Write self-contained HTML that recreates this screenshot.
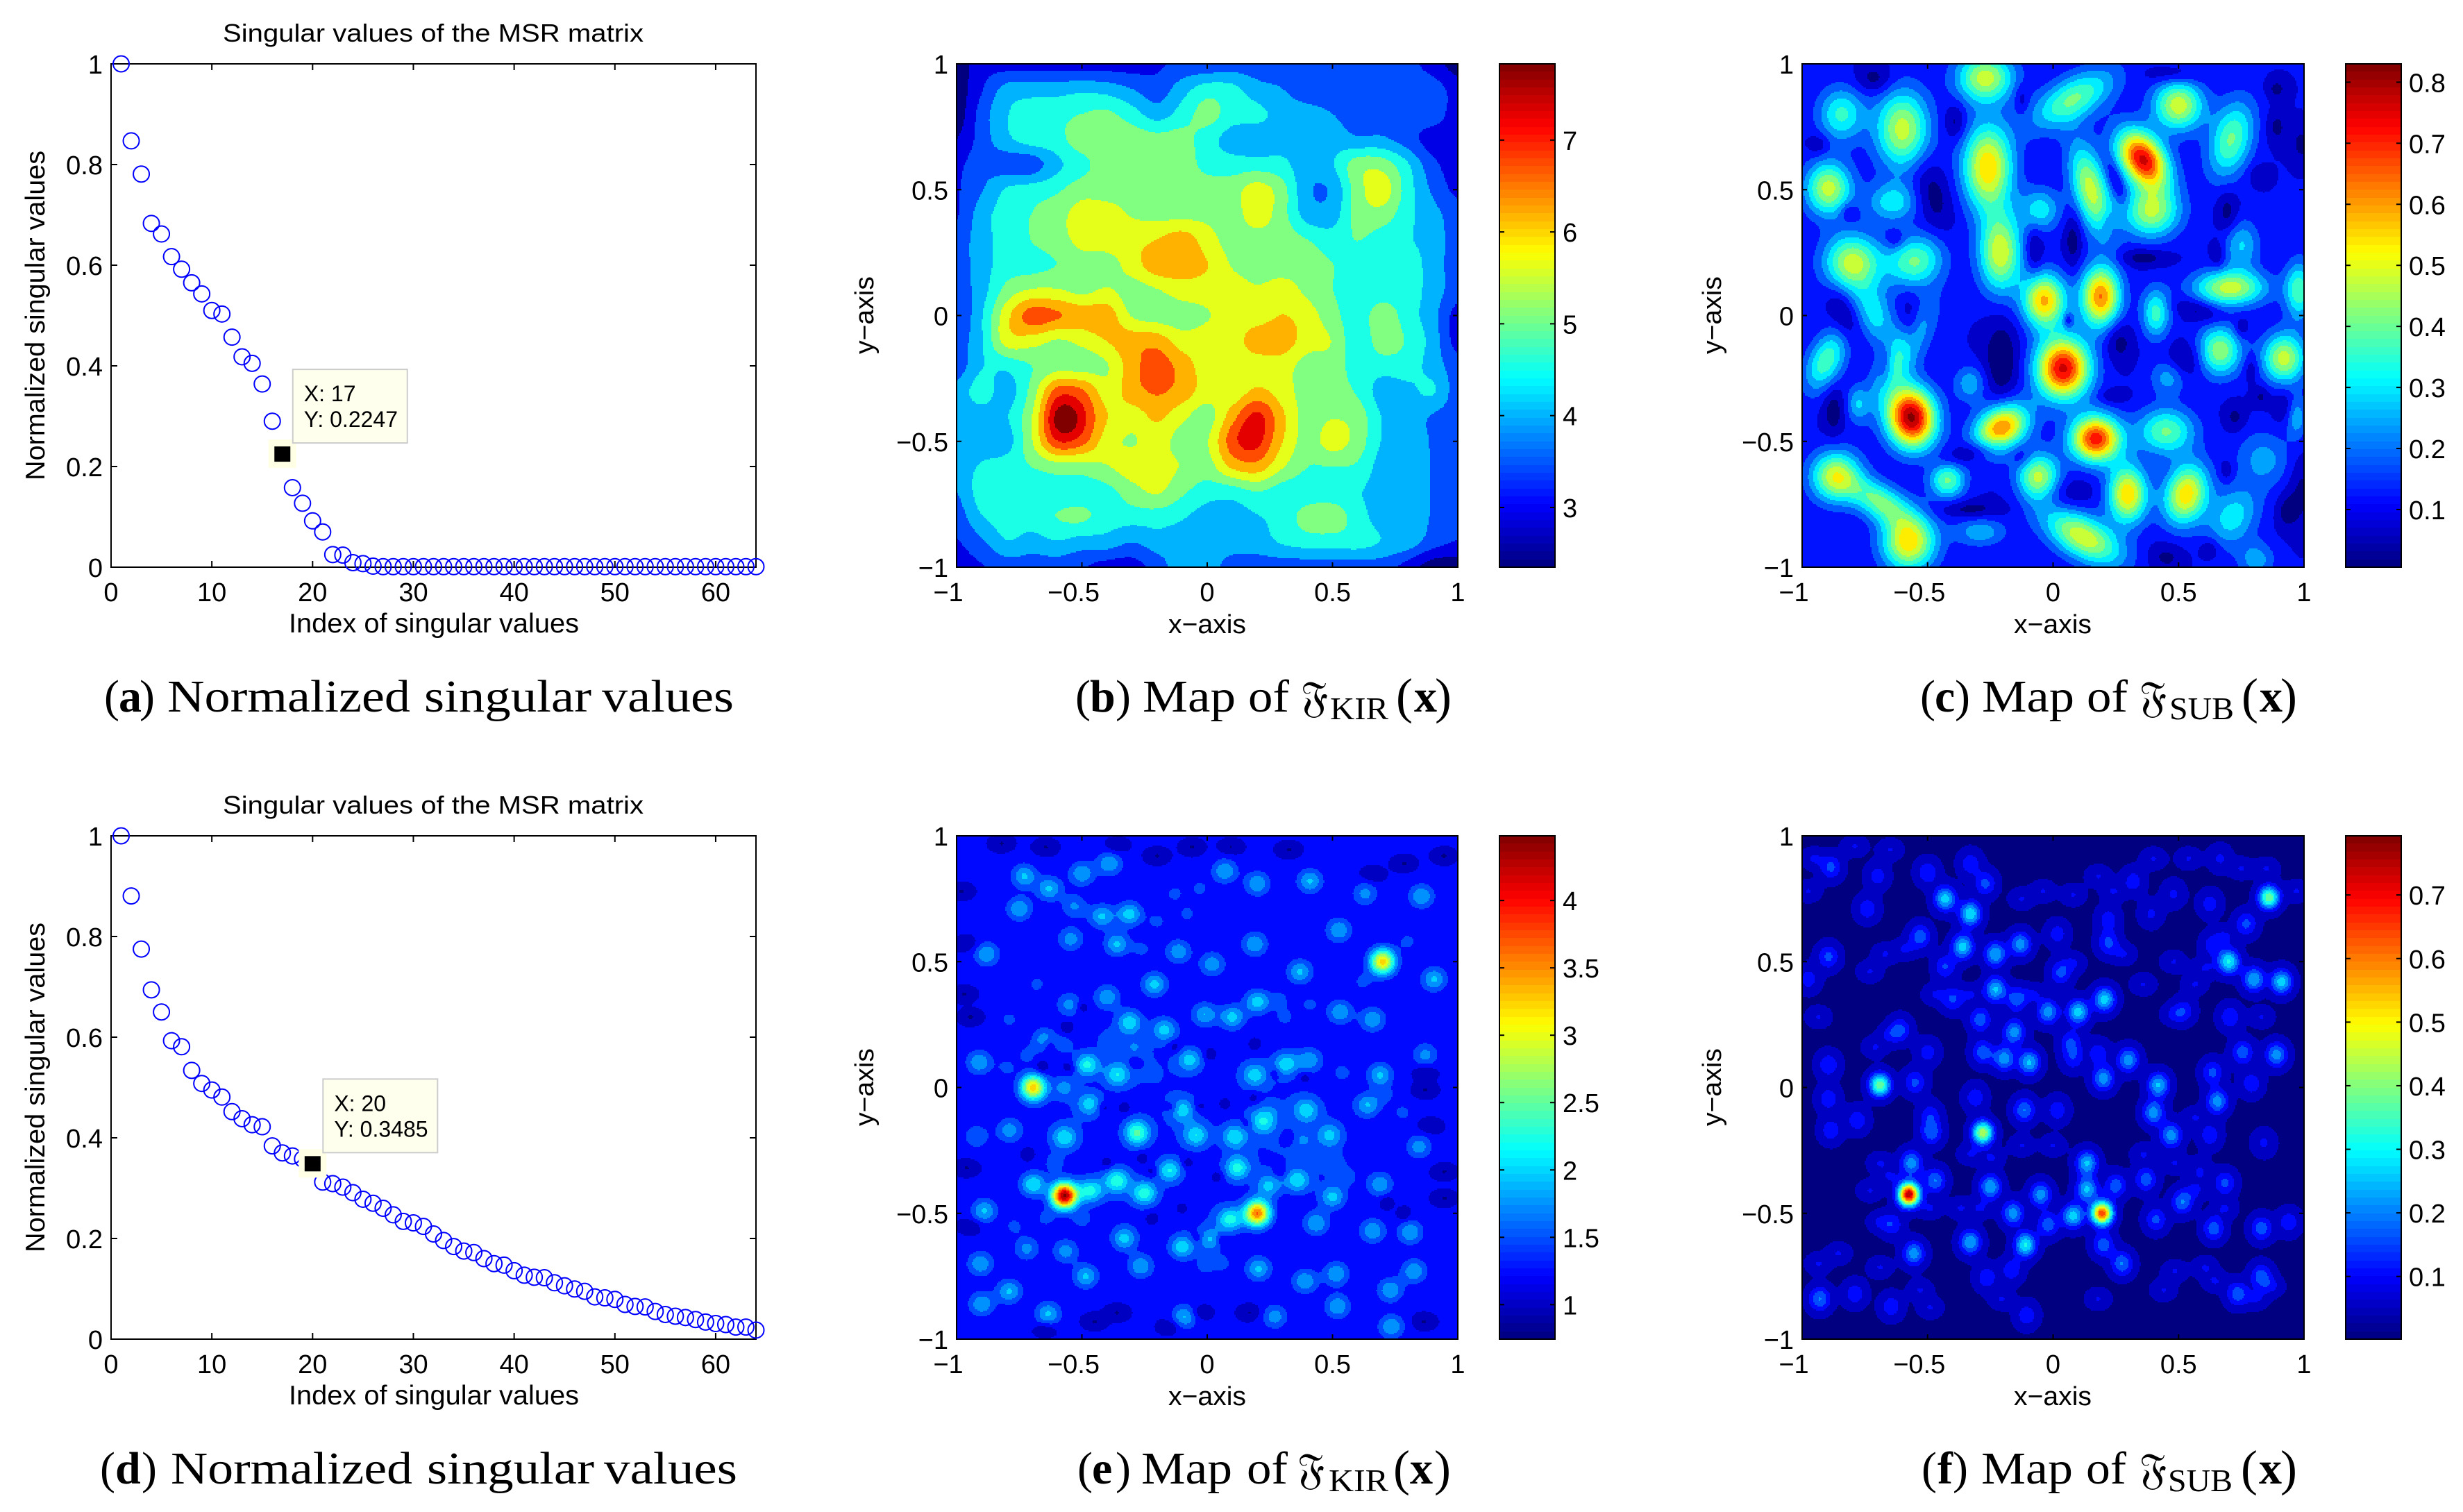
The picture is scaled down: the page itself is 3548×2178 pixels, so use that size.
<!DOCTYPE html>
<html lang="en">
<head>
<meta charset="utf-8">
<title>Singular values and imaging maps</title>
<style>
html,body{margin:0;padding:0;background:#fff;}
svg{display:block;}
.sans{font-family:"Liberation Sans",Arial,sans-serif;fill:#000;}
.serif{font-family:"Liberation Serif","DejaVu Serif",serif;fill:#000;}
.cap{font-size:66px;}
.sub{font-size:46px;}
.big{font-size:72px;}
.frak{font-family:"DejaVu Serif","DejaVu Sans","Noto Serif CJK SC",serif;font-size:62px;fill:#000;}
</style>
</head>
<body>
<svg id="figure" xmlns="http://www.w3.org/2000/svg" width="3548" height="2178" viewBox="0 0 3548 2178">
<rect x="0" y="0" width="3548" height="2178" fill="#fff"/>
<g id="layer"></g>

<text class="sans" font-size="36" x="321" y="60" textLength="606" lengthAdjust="spacingAndGlyphs">Singular values of the MSR matrix</text>
<text class="sans" font-size="39" x="416" y="911" textLength="418" lengthAdjust="spacingAndGlyphs">Index of singular values</text>
<text class="sans" font-size="39" transform="translate(64,692) rotate(-90)" textLength="475" lengthAdjust="spacingAndGlyphs">Normalized singular values</text>
<text class="sans" font-size="36" x="321" y="1172" textLength="606" lengthAdjust="spacingAndGlyphs">Singular values of the MSR matrix</text>
<text class="sans" font-size="39" x="416" y="2023" textLength="418" lengthAdjust="spacingAndGlyphs">Index of singular values</text>
<text class="sans" font-size="39" transform="translate(64,1804) rotate(-90)" textLength="475" lengthAdjust="spacingAndGlyphs">Normalized singular values</text>

<text class="sans" font-size="38" x="1683" y="912" textLength="112" lengthAdjust="spacingAndGlyphs">x−axis</text>
<text class="sans" font-size="38" transform="translate(1258,510) rotate(-90)" textLength="112" lengthAdjust="spacingAndGlyphs">y−axis</text>
<text class="sans" font-size="38" x="2901" y="912" textLength="112" lengthAdjust="spacingAndGlyphs">x−axis</text>
<text class="sans" font-size="38" transform="translate(2479,510) rotate(-90)" textLength="112" lengthAdjust="spacingAndGlyphs">y−axis</text>
<text class="sans" font-size="38" x="1683" y="2024" textLength="112" lengthAdjust="spacingAndGlyphs">x−axis</text>
<text class="sans" font-size="38" transform="translate(1258,1622) rotate(-90)" textLength="112" lengthAdjust="spacingAndGlyphs">y−axis</text>
<text class="sans" font-size="38" x="2901" y="2024" textLength="112" lengthAdjust="spacingAndGlyphs">x−axis</text>
<text class="sans" font-size="38" transform="translate(2479,1622) rotate(-90)" textLength="112" lengthAdjust="spacingAndGlyphs">y−axis</text>

<g>
<text class="serif cap" x="150" y="1025">(</text><text class="serif cap" font-weight="bold" x="171" y="1025">a</text><text class="serif cap" x="201" y="1025">)</text>
<text class="serif cap" x="241" y="1025" textLength="350" lengthAdjust="spacingAndGlyphs">Normalized</text>
<text class="serif cap" x="611" y="1025" textLength="241" lengthAdjust="spacingAndGlyphs">singular</text>
<text class="serif cap" x="867" y="1025" textLength="190" lengthAdjust="spacingAndGlyphs">values</text>
</g>
<g>
<text class="serif cap" x="144" y="2137">(</text><text class="serif cap" font-weight="bold" x="166" y="2137">d</text><text class="serif cap" x="204" y="2137">)</text>
<text class="serif cap" x="246" y="2137" textLength="348" lengthAdjust="spacingAndGlyphs">Normalized</text>
<text class="serif cap" x="615" y="2137" textLength="241" lengthAdjust="spacingAndGlyphs">singular</text>
<text class="serif cap" x="870" y="2137" textLength="192" lengthAdjust="spacingAndGlyphs">values</text>
</g>
<g>
<text class="serif cap" x="1549" y="1025">(</text><text class="serif cap" font-weight="bold" x="1570" y="1025">b</text><text class="serif cap" x="1607" y="1025">)</text>
<text class="serif cap" x="1646" y="1025" textLength="134" lengthAdjust="spacingAndGlyphs">Map</text>
<text class="serif cap" x="1798" y="1025" textLength="59" lengthAdjust="spacingAndGlyphs">of</text>
<text class="frak" x="1874" y="1025">𝔉</text>
<text class="serif sub" x="1916" y="1036" textLength="84" lengthAdjust="spacingAndGlyphs">KIR</text>
<text class="serif big" x="2011" y="1027">(</text><text class="serif cap" font-weight="bold" x="2037" y="1025">x</text><text class="serif big" x="2067" y="1027">)</text>
</g>
<g>
<text class="serif cap" x="1552" y="2137">(</text><text class="serif cap" font-weight="bold" x="1573" y="2137">e</text><text class="serif cap" x="1607" y="2137">)</text>
<text class="serif cap" x="1644" y="2137" textLength="131" lengthAdjust="spacingAndGlyphs">Map</text>
<text class="serif cap" x="1796" y="2137" textLength="59" lengthAdjust="spacingAndGlyphs">of</text>
<text class="frak" x="1869" y="2137">𝔉</text>
<text class="serif sub" x="1914" y="2148" textLength="86" lengthAdjust="spacingAndGlyphs">KIR</text>
<text class="serif big" x="2007" y="2139">(</text><text class="serif cap" font-weight="bold" x="2031" y="2137">x</text><text class="serif big" x="2066" y="2139">)</text>
</g>
<g>
<text class="serif cap" x="2766" y="1025">(</text><text class="serif cap" font-weight="bold" x="2787" y="1025">c</text><text class="serif cap" x="2816" y="1025">)</text>
<text class="serif cap" x="2855" y="1025" textLength="133" lengthAdjust="spacingAndGlyphs">Map</text>
<text class="serif cap" x="3006" y="1025" textLength="59" lengthAdjust="spacingAndGlyphs">of</text>
<text class="frak" x="3082" y="1025">𝔉</text>
<text class="serif sub" x="3125" y="1036" textLength="93" lengthAdjust="spacingAndGlyphs">SUB</text>
<text class="serif big" x="3229" y="1027">(</text><text class="serif cap" font-weight="bold" x="3255" y="1025">x</text><text class="serif big" x="3285" y="1027">)</text>
</g>
<g>
<text class="serif cap" x="2768" y="2137">(</text><text class="serif cap" font-weight="bold" x="2791" y="2137">f</text><text class="serif cap" x="2813" y="2137">)</text>
<text class="serif cap" x="2854" y="2137" textLength="132" lengthAdjust="spacingAndGlyphs">Map</text>
<text class="serif cap" x="3005" y="2137" textLength="58" lengthAdjust="spacingAndGlyphs">of</text>
<text class="frak" x="3082" y="2137">𝔉</text>
<text class="serif sub" x="3123" y="2148" textLength="93" lengthAdjust="spacingAndGlyphs">SUB</text>
<text class="serif big" x="3228" y="2139">(</text><text class="serif cap" font-weight="bold" x="3254" y="2137">x</text><text class="serif big" x="3285" y="2139">)</text>
</g>
</svg>

<script>
/* ---------- scatter data ---------- */
const scatterXTicks = [0,10,20,30,40,50,60];
const scatterYTicks = [0,0.2,0.4,0.6,0.8,1];
const scatterYTickLabels = ['0','0.2','0.4','0.6','0.8','1'];
const singularValuesA = [1,.847,.781,.683,.662,.617,.592,.565,.543,.510,.503,.457,.418,.405,.364,.290,.2247,.158,.127,.092,.070,.025,.024,.009,.007,.002,.001,.001,.001,.001,.001,.001,.001,.001,.001,.001,.001,.001,.001,.001,.001,.001,.001,.001,.001,.001,.001,.001,.001,.001,.001,.001,.001,.001,.001,.001,.001,.001,.001,.001,.001,.001,.001,.001];
const singularValuesD = [1,.8805,.775,.694,.650,.593,.581,.534,.508,.495,.481,.452,.438,.426,.422,.384,.370,.364,.358,.3485,.312,.309,.302,.291,.278,.270,.260,.247,.234,.231,.224,.209,.196,.184,.175,.172,.160,.150,.147,.136,.127,.123,.122,.112,.106,.0996,.095,.084,.082,.079,.069,.065,.064,.055,.049,.0455,.043,.039,.034,.031,.029,.024,.024,.018];
const datatipIndexA = 17;
const datatipIndexD = 20;

/* ---------- map axes and colorbars ---------- */
const mapTicks = [-1,-0.5,0,0.5,1];
const mapTickLabels = ['−1','−0.5','0','0.5','1'];
const colorbarTicksB = [3,4,5,6,7];
const colorbarLabelsB = ['3','4','5','6','7'];
const colorbarRangeB = [2.35,7.83];
const colorbarTicksC = [0.1,0.2,0.3,0.4,0.5,0.6,0.7,0.8];
const colorbarLabelsC = ['0.1','0.2','0.3','0.4','0.5','0.6','0.7','0.8'];
const colorbarRangeC = [0.0056,0.83];
const colorbarTicksE = [1,1.5,2,2.5,3,3.5,4];
const colorbarLabelsE = ['1','1.5','2','2.5','3','3.5','4'];
const colorbarRangeE = [0.744,4.48];
const colorbarTicksF = [0.1,0.2,0.3,0.4,0.5,0.6,0.7];
const colorbarLabelsF = ['0.1','0.2','0.3','0.4','0.5','0.6','0.7'];
const colorbarRangeF = [0.0014,0.793];

/* ---------- map b: coarse value grid, rows y=1..-1, cols x=-1..1, step 0.1 ---------- */
const mapBGrid = [
[2.6,3.2,3.2,3.2,3.2,3.2,3.2,3.2,3.35,3.6,3.6,3.7,3.7,3.7,3.7,3.7,3.7,3.7,3.6,3.2,2.6],
[2.6,3.4,4.2,4.3,4.3,4.4,4.3,4.0,3.7,4.3,4.8,4.7,4.2,4.0,3.7,3.7,3.7,3.7,3.7,3.7,3.2],
[2.6,3.7,4.5,4.8,4.9,5.1,5.2,4.8,4.3,4.8,5.3,4.8,4.7,4.3,4.2,4.0,3.7,3.7,3.7,3.7,3.2],
[2.9,3.7,4.4,4.8,4.9,5.4,5.4,5.4,5.3,5.3,4.8,4.3,4.2,4.3,4.3,4.3,4.1,4.1,3.7,3.2,3.2],
[3.3,3.8,3.7,3.7,4.4,4.9,5.4,5.4,5.4,5.4,4.9,4.8,4.8,4.7,4.2,4.5,5.4,5.4,4.6,3.6,3.2],
[3.4,3.95,4.6,4.8,5.0,5.4,5.4,5.4,5.4,5.4,5.4,5.4,5.9,5.3,4.1,4.1,5.4,5.9,4.8,3.9,3.3],
[3.4,4.3,4.8,5.1,5.4,5.9,5.9,5.6,5.5,5.5,5.5,5.4,5.9,5.3,4.3,4.3,5.3,5.4,4.7,4.2,3.7],
[3.7,4.3,4.8,5.1,5.4,5.8,5.9,6.0,6.2,6.5,5.9,5.4,5.4,5.4,5.1,4.8,5.1,4.8,4.6,4.3,3.7],
[3.7,4.3,4.8,4.9,5.1,5.4,5.4,5.9,6.5,6.5,6.2,5.6,5.4,5.4,5.4,5.1,4.8,4.8,4.8,4.3,3.7],
[3.7,4.3,5.3,5.7,5.7,5.5,5.7,5.4,5.6,5.9,5.9,5.9,5.7,5.9,5.5,5.1,4.8,4.8,4.8,4.3,3.7],
[3.5,4.5,6.0,7.0,6.8,6.5,6.5,5.6,5.4,5.4,5.6,5.9,5.9,6.2,5.9,5.3,4.8,5.4,4.8,4.2,3.2],
[3.7,4.5,5.9,5.9,5.6,5.8,6.2,6.5,6.5,5.9,5.9,5.9,6.5,6.5,5.9,5.6,4.7,5.4,5.0,4.3,3.2],
[3.7,4.5,4.7,5.1,5.4,5.4,5.6,6.5,7.0,6.5,5.9,5.9,5.9,5.9,5.4,5.4,4.8,4.8,4.8,4.3,3.7],
[4.2,4.8,4.3,5.3,6.9,6.8,5.9,6.5,6.8,6.5,5.9,5.8,6.3,5.9,5.4,5.4,5.0,4.3,4.4,4.6,3.7],
[4.3,4.3,4.5,5.6,7.4,7.2,6.2,5.9,6.3,5.8,5.4,6.5,7.4,6.3,5.4,5.6,5.4,4.5,4.3,3.95,3.7],
[4.3,4.3,4.3,5.6,7.1,6.9,5.9,5.6,5.9,5.4,5.6,7.0,7.3,6.2,5.4,5.9,5.4,4.5,4.3,3.95,3.7],
[4.3,4.6,4.8,5.1,5.4,5.4,5.6,5.9,5.9,5.6,5.4,6.3,6.5,5.7,5.1,5.1,5.0,4.3,4.3,3.95,3.7],
[4.0,4.8,4.8,4.6,4.8,4.8,4.9,5.4,5.7,5.2,4.8,4.8,5.1,4.8,4.8,4.8,4.6,4.3,4.3,3.95,3.7],
[3.7,4.5,4.8,4.8,5.1,5.2,4.8,4.8,4.8,4.6,4.3,4.3,4.5,4.8,5.3,5.4,4.8,4.3,4.3,3.95,3.7],
[3.4,3.9,4.5,4.3,4.5,4.3,4.3,4.0,4.3,4.3,4.3,4.3,4.3,4.6,4.8,4.8,4.8,4.5,4.3,3.7,3.4],
[3.2,3.4,3.7,3.7,3.7,3.5,3.2,3.2,3.7,4.3,4.3,3.7,3.7,3.7,3.7,3.7,3.7,3.7,3.2,2.6,2.6]
];
const mapBPeakX = [-0.565,0.17];
const mapBPeakY = [-0.41,-0.485];
const mapBPeakHeight = [0.8,0.3];
const mapBPeakSx = [0.05,0.035];
const mapBPeakSy = [0.05,0.04];
const mapBPeakRot = [0,0];

const mapCBase = 0.125;
const mapCPeakX = [-.844,-.60,-.27,.08,.50,.71,-.26,-.895,-.64,.358,.15,.39,-.05,-.21,-.80,-.55,-.71,-.035,.19,.41,.705,.665,.92,.98,.04,-.565,-.205,.17,.45,-.33,-.78,-.905,.46,-.865,-.69,-.575,-.42,-.058,.297,.53,.84,.717,-.29,.12,.81,.97,-.6,.75,
 -.39,-.71,-.48,.08,.36,-.205,.26,.525,.695,.655,-.075,-.815,-.835,-.875,0,-.31,.725,.92,.45,.25,.89,.82,-.125,.48,-.57,.585,-.33,.06,.79,-.67,-.935,
 .24,-.125,.69,.625,.99,.99,.93,.89,.22,-.63,.75,.83];
const mapCPeakY = [.80,.74,.945,.86,.835,.70,.59,.505,.45,.62,.50,.41,.42,.25,.21,.215,.005,.06,.075,.01,.11,-.14,-.17,.10,-.21,-.405,-.447,-.49,-.46,-.27,-.35,-.18,-.245,-.64,-.74,-.90,-.655,-.65,-.71,-.71,-.57,-.80,-.86,-.88,-.97,-.405,-.15,.28,
 .77,.94,.48,.30,.23,-.18,-.10,-.18,.41,.24,.26,.41,.005,-.38,-.71,-.54,-.405,-.36,-.96,.535,.75,.56,.86,.955,-.03,.02,-.77,-.02,-.21,-.21,.68,
 -.32,-.56,-.615,-.925,.68,-.69,-.78,.90,.37,.30,-.05,-.32];
const mapCPeakHeight = [.25,.38,.38,.30,.39,.30,.46,.38,.21,.66,.38,.35,.21,.40,.38,.30,.20,.48,.53,.26,.38,.34,.38,.28,.66,.72,.54,.62,.30,.16,.15,.28,.15,.40,.30,.45,.30,.40,.46,.45,.14,.21,.16,.40,.15,.16,.23,.18,
 -.1,-.1,-.1,-.1,-.1,-.12,-.1,-.1,-.1,-.08,-.1,-.08,-.1,-.1,-.1,-.1,-.08,-.08,-.08,-.1,-.08,-.06,-.08,-.08,-.1,-.1,-.09,-.12,-.08,-.08,-.08,
 -.08,-.08,-.08,-.08,-.08,-.08,-.08,-.08,-.06,-.08,-.08,-.08];
const mapCPeakSx = [.065,.075,.08,.13,.07,.06,.07,.065,.07,.06,.05,.08,.055,.06,.08,.08,.05,.06,.055,.04,.10,.06,.06,.04,.075,.068,.08,.07,.08,.045,.03,.05,.05,.07,.09,.075,.05,.06,.055,.06,.075,.065,.07,.12,.05,.03,.05,.05,
 .03,.05,.05,.025,.07,.05,.04,.05,.03,.02,.025,.025,.035,.03,.10,.10,.03,.03,.05,.02,.03,.03,.02,.08,.03,.07,.09,.012,.02,.02,.03,
 .04,.03,.02,.03,.03,.04,.03,.03,.02,.025,.02,.025];
const mapCPeakSy = [.075,.11,.07,.06,.07,.11,.12,.075,.055,.09,.13,.07,.06,.11,.08,.07,.09,.075,.085,.07,.05,.07,.07,.08,.085,.085,.06,.065,.065,.05,.05,.09,.05,.07,.05,.08,.05,.07,.08,.085,.08,.09,.04,.06,.05,.06,.15,.07,
 .05,.04,.10,.08,.025,.12,.06,.05,.06,.04,.07,.03,.08,.07,.05,.03,.04,.05,.04,.07,.05,.03,.04,.025,.08,.03,.025,.02,.04,.06,.03,
 .02,.03,.03,.03,.05,.1,.05,.03,.03,.025,.03,.03];
const mapCPeakRot = [0,0,0,30,0,-15,0,0,0,35,15,0,0,0,30,30,20,0,0,0,0,0,0,0,0,10,35,0,0,0,0,-25,0,0,-30,0,0,0,0,-15,40,-30,0,-30,0,0,-30,0,
 0,0,15,0,0,0,0,0,0,0,0,0,20,0,0,15,0,0,0,20,0,0,0,0,0,-15,0,0,0,0,0,
 0,0,0,0,0,0,0,0,0,0,0,0];

/* ---------- map e ---------- */
const mapEBase = 1.28;
const mapEMainX = [-.57,.20,-.695,.70,-.28];
const mapEMainY = [-.43,-.50,0,.50,-.18];
const mapEMainHeight = [3.2,2.42,2.05,2.05,1.2];
const mapESpotX = [-.73,-.50,-.39,-.63,-.75,-.42,-.31,-.53,.07,.20,.41,.63,.855,.525,-.88,.19,-.36,-.115,-.545,-.21,.37,.02,.905,.20,-.55,-.40,-.31,-.17,-.01,.10,.53,.66,-.65,-.07,-.48,-.91,-.36,.19,.32,.41,.69,.87,-.47,-.57,.395,.64,-.10,.21,-.57,-.79,-.045,.11,.49,-.92,.845,-.15,-.36,.12,-.695,-.465,-.25,.36,.245,.50,.69,-.89,.09,.435,-.565,-.33,-.10,.01,.66,.81,-.72,-.905,-.265,.205,-.485,.515,.825,-.79,.39,.73,-.90,-.635,-.09,.52,.27,.735];
const mapESpotY = [.84,.85,.89,.79,.71,.68,.69,.72,.86,.81,.82,.77,.76,.625,.53,.57,.57,.54,.59,.41,.46,.49,.43,.34,.33,.36,.26,.23,.29,.28,.30,.27,.19,.11,.09,.10,.05,.05,.10,.11,.05,.13,-.065,0,-.09,-.07,-.09,-.13,-.20,-.17,-.19,-.195,-.19,-.195,-.235,-.33,-.37,-.32,-.385,-.41,-.42,-.37,-.39,-.435,-.385,-.49,-.525,-.54,-.65,-.60,-.635,-.605,-.57,-.575,-.64,-.70,-.71,-.72,-.75,-.74,-.73,-.81,-.77,-.805,-.86,-.90,-.91,-.87,-.91,-.95];
const mapESpotHeight = [.75,.7,.7,.75,.7,.75,.85,.5,.7,.7,.75,.55,.7,.7,.7,.7,.75,.65,.6,.8,.75,.65,.75,.85,.55,.65,.8,.75,.7,.8,.7,.7,.6,.75,.95,.7,.8,.7,.6,.6,.75,.55,.75,.5,.7,.7,.7,.65,.8,.6,.8,.8,.65,.45,.6,.9,1.0,.95,.95,.95,1.0,.8,.7,.75,.65,.75,.95,.7,.6,.8,.85,.65,.7,.7,.55,.7,.7,.75,.75,.7,.7,.75,.7,.7,.7,.75,.75,.7,.6,.7];
const mapEPatchX = [-.68,-.79,-.39,-.29,-.80,-.72,-.57,-.26,-.2,-.08,-.13,-.03,.29,.31,.41,.80,.62,.71,.78,.54,.30,.255,.24,.50,.555,.38,-.01,.06,-.77,-.645,-.50,-.61];
const mapEPatchY = [.41,.27,.19,.16,.08,.13,.17,.55,.66,.69,.77,.79,.35,.28,.33,.58,.42,-.03,-.10,.06,.08,-.10,-.155,-.30,-.355,-.21,-.71,-.70,-.55,-.52,-.525,-.30];
const mapEWideX = [-.35,-.1,.2,.4,-.35,0,-.2,.2,.45,-.55];
const mapEWideY = [.15,-.15,-.25,-.1,-.4,-.5,.05,.05,-.3,-.15];
const mapEHoleX = [-.50,-.55,-.13,.01,.19,.39,.27,.185,-.03,-.14,.07,.16,-.33,-.29,-.415,-.56,-.66,.325,-.08,-.22,-.10,-.26,-.40,.04,.29,-.22,.06,-.04,-.63,-.715,.785,.715];
const mapEHoleY = [.32,.08,.16,.13,.17,.04,.06,-.04,-.075,-.08,-.065,-.145,-.08,.10,-.08,.24,.08,-.20,-.30,-.335,-.48,-.28,-.30,-.355,-.335,-.52,-.605,-.60,.17,-.265,-.505,-.455];
const mapEEdgeX = [-.98,-.945,-.97,-.96,-.82,-.645,-.36,-.2,-.06,.095,.325,.66,.785,.945,.87,.87,.89,.945,.945,.865,-.45,-.15,-.36,-.03,.17,-.645,-.96,-.945];
const mapEEdgeY = [.78,.28,.37,.57,.97,.955,.96,.92,.955,.955,.945,.845,.89,.92,.06,-.01,-.155,-.335,-.44,-.93,-.93,-.95,-.895,-.895,-.895,-.96,-.32,-.55];

/* ---------- map f ---------- */
const mapFBase = 0.045;
const mapFMainX = [-.575,.195,-.28,-.69,.86];
const mapFMainY = [-.425,-.50,-.18,.01,.755];
const mapFMainHeight = [.74,.63,.42,.37,.37];
const mapFSpotX = [-.43,-.33,-.36,-.23,-.13,-.23,.205,.10,-.02,.03,.70,.80,.91,-.155,-.29,-.61,-.895,-.885,-.50,-.33,-.27,-.74,-.53,.22,.635,.52,.705,.755,.89,.42,.30,.20,-.095,-.195,-.28,.07,-.50,-.895,-.55,.655,.40,.47,-.115,.017,-.485,-.49,-.78,-.885,-.31,-.565,-.47,-.25,.135,.25,.135,-.05,.37,.08,-.16,-.02,.515,.64,.83,.685,.41,-.555,-.33,-.11,.20,.275,-.165,-.265,.735,.83,-.93,-.79,-.645,-.105,.94,-.64,-.895,.585,.625,.84,.18,.08,.635,.79,.77,.625,.39,.22,.017,-.40,-.145,-.43,-.975,-.70,.32,.48,.665];
const mapFSpotY = [.75,.69,.56,.53,.57,.39,.35,.30,.30,.455,.50,.43,.42,.22,.27,.23,.52,.875,.855,.89,.81,.71,.60,.575,.565,.305,.28,.14,.13,.01,.11,.035,.10,.115,.14,.18,.14,.09,.02,-.055,-.10,-.19,-.09,-.09,-.18,-.11,-.13,-.17,-.04,-.30,-.37,-.395,-.405,-.39,-.30,-.425,-.365,-.51,-.50,-.545,-.455,-.56,-.56,-.38,-.525,-.66,-.615,-.625,-.625,-.70,-.725,-.755,-.82,-.75,-.84,-.82,-.87,-.905,-.535,-.545,-.045,-.335,-.19,-.22,.135,.115,.06,.015,.65,.73,.69,.67,.61,.35,.35,.48,.43,.84,.82,.77,.91];
const mapFSpotHeight = [.25,.27,.25,.22,.20,.23,.25,.25,.20,.13,.28,.22,.25,.20,.15,.13,.13,.13,.11,.10,.13,.10,.15,.13,.09,.10,.11,.15,.20,.23,.20,.20,.23,.20,.15,.12,.09,.11,.13,.20,.20,.20,.17,.10,.15,.10,.10,.10,.10,.20,.17,.22,.23,.15,.23,.20,.15,.25,.20,.15,.17,.15,.15,.13,.13,.20,.22,.28,.15,.17,.10,.10,.15,.15,.17,.10,.10,.10,.10,.10,.10,.07,.10,.07,.10,.10,.13,.10,.13,.09,.07,.09,.09,.12,.15,.12,.09,.09,.09,.07,.07];
const mapFLowX = [-.73,-.67,-.59,-.65,-.71,-.33,-.47,-.08,.08,.28,.36,.48,.565,.08,.18,.24,-.125,-.04,.685,.605,.48,.83,.565,.36,.485,.565,.685,0,-.125,-.33,-.245,-.69,-.65,-.73,-.49,-.37,-.29,-.69,-.935,-.855,-.69,-.53,-.49,.485,.605,.645,.44,.81,.87,-.205,.18,-.935,-.975,.97,.85,.75,.40,.54,-.65,-.79,-.955];
const mapFLowY = [.46,.53,.55,.21,.16,.37,.37,.37,.495,.53,.41,.50,.41,.765,.84,.78,.75,.78,.60,.475,.29,.28,-.12,-.265,-.30,-.41,-.48,-.23,-.23,-.265,-.28,-.30,-.355,-.41,-.48,-.48,-.48,-.535,-.70,-.66,-.715,-.805,-.875,-.73,-.715,-.77,-.805,-.84,-.79,-.84,-.84,.28,.78,.78,.87,.87,.91,.91,.945,.96,.91];

/* ---------- helpers ---------- */
const NS = 'http://www.w3.org/2000/svg';
const layer = document.getElementById('layer');
function svgEl(tag, attrs, parent){
  const e = document.createElementNS(NS, tag);
  for (const k in attrs) e.setAttribute(k, attrs[k]);
  (parent || layer).appendChild(e);
  return e;
}
function linearScale(d0, d1, r0, r1){
  return function(v){ return r0 + (v - d0) / (d1 - d0) * (r1 - r0); };
}
function jet(t){
  const c = function(v){ return Math.round(255 * Math.max(0, Math.min(1, v))); };
  return 'rgb(' + c(1.5 - Math.abs(4*t - 3)) + ',' + c(1.5 - Math.abs(4*t - 2)) + ',' + c(1.5 - Math.abs(4*t - 1)) + ')';
}
function catmull(a, b, c, d, t){
  return 0.5 * (2*b + (c-a)*t + (2*a - 5*b + 4*c - d)*t*t + (3*b - a - 3*c + d)*t*t*t);
}
function sampleGrid(grid, x, y){
  const n = grid.length - 1;
  const gx = (x + 1) / 2 * n;
  const gy = (1 - y) / 2 * n;
  const ix = Math.max(0, Math.min(n - 1, Math.floor(gx)));
  const iy = Math.max(0, Math.min(n - 1, Math.floor(gy)));
  const tx = gx - ix, ty = gy - iy;
  const cl = function(i){ return Math.max(0, Math.min(n, i)); };
  const rowVals = [];
  for (let r = -1; r <= 2; r++){
    const row = grid[cl(iy + r)];
    rowVals.push(catmull(row[cl(ix-1)], row[cl(ix)], row[cl(ix+1)], row[cl(ix+2)], tx));
  }
  return catmull(rowVals[0], rowVals[1], rowVals[2], rowVals[3], ty);
}

/* ---------- scatter panel ---------- */
function drawScatter(panel, top, values, tipIndex){
  const g = svgEl('g', {});
  
  
  const left = 160, right = 1089, bottom = top + 725;
  const xScale = linearScale(0, 64, left, right);
  const yScale = linearScale(0, 1, bottom, top);
  const frame = svgEl('rect', {x:left, y:top, width:right-left, height:bottom-top, fill:'#fff', stroke:'#000', 'stroke-width':2}, g);
  
  
  scatterXTicks.forEach(function(t){
    const x = xScale(t);
    const tickA = svgEl('line', {x1:x, x2:x, y1:bottom, y2:bottom-9, stroke:'#000', 'stroke-width':2}, g);
    
    
    const tickB = svgEl('line', {x1:x, x2:x, y1:top, y2:top+9, stroke:'#000', 'stroke-width':2}, g);
    
    
    const lab = svgEl('text', {x:x, y:bottom+49, 'text-anchor':'middle', 'font-size':38, class:'sans'}, g);
    
    
    lab.textContent = String(t);
  });
  scatterYTicks.forEach(function(t, i){
    const y = yScale(t);
    const tickA = svgEl('line', {x1:left, x2:left+9, y1:y, y2:y, stroke:'#000', 'stroke-width':2}, g);
    
    
    const tickB = svgEl('line', {x1:right, x2:right-9, y1:y, y2:y, stroke:'#000', 'stroke-width':2}, g);
    
    
    const lab = svgEl('text', {x:left-12, y:y+14, 'text-anchor':'end', 'font-size':38, class:'sans'}, g);
    
    
    lab.textContent = scatterYTickLabels[i];
  });
  values.forEach(function(v, i){
    const c = svgEl('circle', {cx:xScale(i+1), cy:yScale(v), r:11.5, fill:'none', stroke:'#0000ff', 'stroke-width':2}, g);
    
    
  });
  const mx = xScale(tipIndex), my = yScale(values[tipIndex-1]);
  const halo = svgEl('rect', {x:mx-20, y:my-21, width:40, height:41, fill:'#ffffe6'}, g);
  
  
  const mark = svgEl('rect', {x:mx-11.5, y:my-11, width:23, height:22, fill:'#000'}, g);
  
  
  const box = svgEl('rect', {x:mx+15, y:my-122, width:165, height:106, fill:'#ffffee', stroke:'#cccccc', 'stroke-width':2}, g);
  
  
  const l1 = svgEl('text', {x:mx+31, y:my-76, 'font-size':32, class:'sans'}, g);
  
  
  l1.textContent = 'X: ' + tipIndex;
  const l2 = svgEl('text', {x:mx+31, y:my-39, 'font-size':32, class:'sans'}, g);
  
  
  l2.textContent = 'Y: ' + values[tipIndex-1].toFixed(4);
}

/* ---------- filled contour map ---------- */
const CELL = 2;
function drawMap(panel, cfg){
  const g = svgEl('g', {});
  
  
  const L = cfg.left, R = cfg.right, T = cfg.top, B = cfg.top + 725;
  const xScale = linearScale(-1, 1, L, R);
  const yScale = linearScale(-1, 1, B, T);
  const xInv = linearScale(L, R, -1, 1);
  const yInv = linearScale(B, T, -1, 1);
  const cols = Math.ceil((R - L) / CELL), rows = Math.ceil((B - T) / CELL);
  const field = new Float32Array(cols * rows);
  for (let r = 0; r < rows; r++){
    const y = yInv(T + (r + 0.5) * CELL);
    for (let c = 0; c < cols; c++){
      const x = xInv(L + (c + 0.5) * CELL);
      field[r*cols + c] = cfg.grid ? sampleGrid(cfg.grid, x, y) : cfg.base;
    }
  }
  function addBlob(px, py, h, sx, sy, rotDeg){
    const a = (rotDeg || 0) * Math.PI / 180, ca = Math.cos(a), sa = Math.sin(a);
    const reach = Math.max(sx, sy) * 4;
    const c0 = Math.max(0, Math.floor((xScale(px - reach) - L) / CELL));
    const c1 = Math.min(cols - 1, Math.ceil((xScale(px + reach) - L) / CELL));
    const r0 = Math.max(0, Math.floor((yScale(py + reach) - T) / CELL));
    const r1 = Math.min(rows - 1, Math.ceil((yScale(py - reach) - T) / CELL));
    for (let r = r0; r <= r1; r++){
      const dy = yInv(T + (r + 0.5) * CELL) - py;
      for (let c = c0; c <= c1; c++){
        const dx = xInv(L + (c + 0.5) * CELL) - px;
        const u = (dx*ca + dy*sa) / sx, v = (-dx*sa + dy*ca) / sy;
        field[r*cols + c] += h * Math.exp(-0.5 * (u*u + v*v));
      }
    }
  }
  cfg.layers.forEach(function(ly){
    ly.xs.forEach(function(px, i){
      const h = Array.isArray(ly.h) ? ly.h[i] : ly.h;
      const sx = Array.isArray(ly.sx) ? ly.sx[i] : ly.sx;
      const sy = Array.isArray(ly.sy) ? ly.sy[i] : ly.sy;
      const rot = ly.rot ? ly.rot[i] : 0;
      addBlob(px, ly.ys[i], h, sx, sy, rot);
    });
  });
  const vMin = cfg.range[0], vMax = cfg.range[1], N = cfg.levels;
  const paths = [];
  for (let i = 0; i <= N; i++) paths.push([]);
  for (let r = 0; r < rows; r++){
    let start = 0, cur = -1;
    for (let c = 0; c <= cols; c++){
      let band = -2;
      if (c < cols){
        band = Math.floor((field[r*cols + c] - vMin) / (vMax - vMin) * N);
        band = Math.max(0, Math.min(N, band));
      }
      if (band !== cur){
        if (cur >= 0){
          const w = Math.min((c - start) * CELL, R - L - start * CELL);
          paths[cur].push('M' + (L + start*CELL) + ' ' + (T + r*CELL) + 'h' + w + 'v' + CELL + 'h-' + w + 'z');
        }
        start = c; cur = band;
      }
    }
  }
  paths.forEach(function(parts, i){
    if (!parts.length) return;
    const p = svgEl('path', {d:parts.join(''), fill:jet(i / N), 'shape-rendering':'crispEdges'}, g);
    
    
  });
  const frame = svgEl('rect', {x:L, y:T, width:R-L, height:B-T, fill:'none', stroke:'#000', 'stroke-width':2}, g);
  
  
  mapTicks.forEach(function(t, i){
    const x = xScale(t), y = yScale(t);
    [[x,B,x,B-7],[x,T,x,T+7],[L,y,L+7,y],[R,y,R-7,y]].forEach(function(s){
      const tick = svgEl('line', {x1:s[0], y1:s[1], x2:s[2], y2:s[3], stroke:'#000', 'stroke-width':2}, g);
      
      
    });
    const lx = svgEl('text', {x:x + (t < 0 ? -12 : 0), y:B+49, 'text-anchor':'middle', 'font-size':38, class:'sans'}, g);
    
    
    lx.textContent = mapTickLabels[i];
    const ly = svgEl('text', {x:L-12, y:y+14, 'text-anchor':'end', 'font-size':38, class:'sans'}, g);
    
    
    ly.textContent = mapTickLabels[i];
  });
  /* colorbar */
  const cbL = cfg.cbLeft, cbR = cfg.cbLeft + 80;
  const cbScale = linearScale(vMin, vMax, B, T);
  const cb = svgEl('g', {}, g);
  
  
  for (let i = 0; i < 64; i++){
    const y0 = Math.round(B - (i + 1) * (B - T) / 64), y1 = Math.round(B - i * (B - T) / 64);
    const s = svgEl('rect', {x:cbL, y:y0, width:cbR-cbL, height:y1-y0, fill:jet((i + 0.5) / 64), 'shape-rendering':'crispEdges'}, cb);
    
    
  }
  const cf = svgEl('rect', {x:cbL, y:T, width:cbR-cbL, height:B-T, fill:'none', stroke:'#000', 'stroke-width':2}, cb);
  
  
  cfg.cbTicks.forEach(function(t, i){
    const y = cbScale(t);
    const a = svgEl('line', {x1:cbL, x2:cbL+7, y1:y, y2:y, stroke:'#000', 'stroke-width':2}, cb);
    
    
    const b = svgEl('line', {x1:cbR, x2:cbR-7, y1:y, y2:y, stroke:'#000', 'stroke-width':2}, cb);
    
    
    const lab = svgEl('text', {x:cbR+11, y:y+14, 'font-size':38, class:'sans'}, cb);
    
    
    lab.textContent = cfg.cbLabels[i];
  });
}

drawScatter('a', 92, singularValuesA, datatipIndexA);
drawScatter('d', 1204, singularValuesD, datatipIndexD);

drawMap('b', {left:1378, right:2100, top:92, cbLeft:2160, levels:10, range:colorbarRangeB, grid:mapBGrid,
  layers:[{xs:mapBPeakX, ys:mapBPeakY, h:mapBPeakHeight, sx:mapBPeakSx, sy:mapBPeakSy, rot:mapBPeakRot}],
  cbTicks:colorbarTicksB, cbLabels:colorbarLabelsB});
drawMap('c', {left:2596, right:3319, top:92, cbLeft:3379, levels:14, range:colorbarRangeC, base:mapCBase,
  layers:[{xs:mapCPeakX, ys:mapCPeakY, h:mapCPeakHeight, sx:mapCPeakSx, sy:mapCPeakSy, rot:mapCPeakRot}],
  cbTicks:colorbarTicksC, cbLabels:colorbarLabelsC});
drawMap('e', {left:1378, right:2100, top:1204, cbLeft:2160, levels:15, range:colorbarRangeE, base:mapEBase,
  layers:[
    {xs:mapEWideX, ys:mapEWideY, h:0.16, sx:0.12, sy:0.10},
    {xs:mapEMainX, ys:mapEMainY, h:mapEMainHeight, sx:0.036, sy:0.036},
    {xs:mapESpotX, ys:mapESpotY, h:mapESpotHeight, sx:0.035, sy:0.033},
    {xs:mapEPatchX, ys:mapEPatchY, h:0.28, sx:0.03, sy:0.028},
    {xs:mapEHoleX, ys:mapEHoleY, h:-0.3, sx:0.018, sy:0.018},
    {xs:mapEEdgeX, ys:mapEEdgeY, h:-0.3, sx:0.03, sy:0.02}
  ],
  cbTicks:colorbarTicksE, cbLabels:colorbarLabelsE});
drawMap('f', {left:2596, right:3319, top:1204, cbLeft:3379, levels:15, range:colorbarRangeF, base:mapFBase,
  layers:[
    {xs:mapFLowX, ys:mapFLowY, h:0.065, sx:0.03, sy:0.025},
    {xs:mapFMainX, ys:mapFMainY, h:mapFMainHeight, sx:0.029, sy:0.032},
    {xs:mapFSpotX, ys:mapFSpotY, h:mapFSpotHeight, sx:0.03, sy:0.034}
  ],
  cbTicks:colorbarTicksF, cbLabels:colorbarLabelsF});
</script>
</body>
</html>
